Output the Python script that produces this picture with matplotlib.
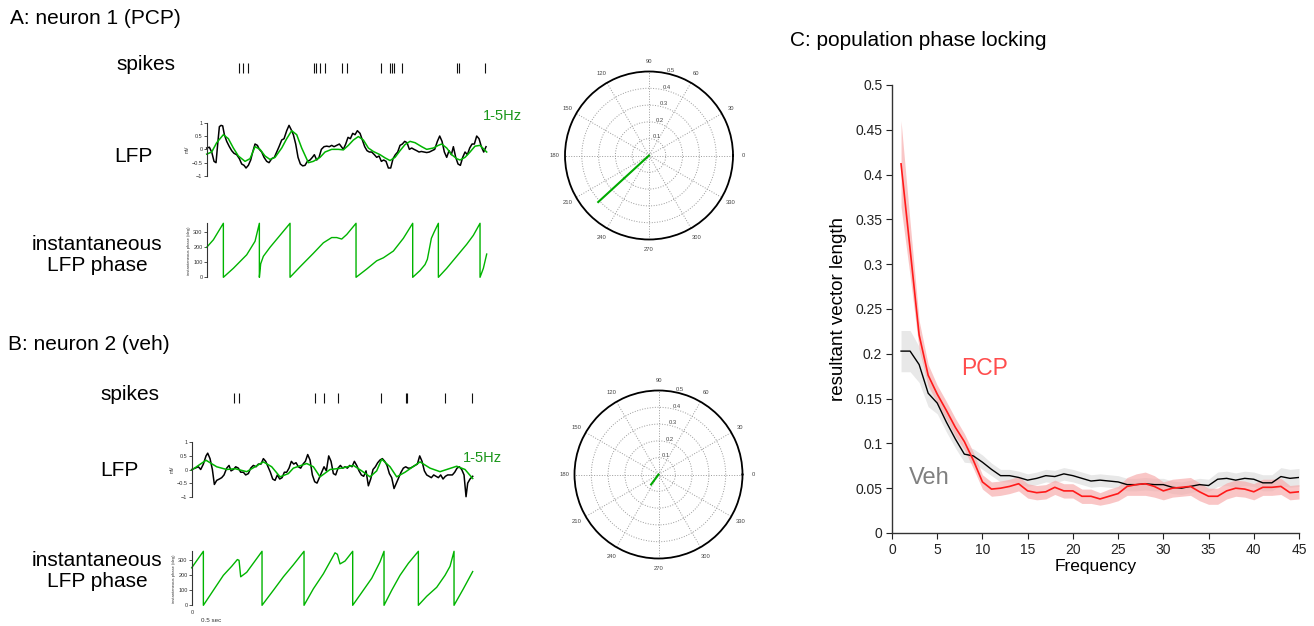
import matplotlib.pyplot as plt
import numpy as np
from matplotlib.ticker import FuncFormatter

plt.rcParams['font.family'] = ['Liberation Sans', 'DejaVu Sans']

W, H = 1314, 626
FS = 300  # samples per second of the example traces

# ---------------- neuron 1 (PCP) ----------------
spk_a = [98, 110, 125, 322, 328, 341, 355, 406, 420, 524, 550, 555, 561, 586, 750, 758, 834]

lfp_a_idx = [0, 8, 15, 22, 28, 33, 38, 43, 48, 53, 60, 68, 75, 82, 90, 98, 105, 112, 118, 125,
             132, 138, 145, 152, 158, 165, 172, 180, 187, 195, 203, 210, 217, 225, 232, 240, 247, 253, 260, 267,
             274, 281, 288, 295, 302, 310, 317, 323, 330, 337, 344, 352, 360, 368, 375, 382, 390, 398, 404, 410,
             417, 424, 431, 438, 445, 452, 460, 467, 474, 481, 488, 495, 503, 510, 517, 524, 531, 538, 545, 552,
             559, 566, 573, 580, 587, 594, 601, 608, 615, 622, 630, 637, 644, 652, 660, 668, 676, 684, 692, 699,
             706, 713, 720, 727, 734, 740, 747, 754, 761, 768, 775, 782, 789, 796, 803, 810, 817, 824, 831, 838]
lfp_a = [0.05, 0.08, -0.1, -0.45, -0.5, 0.2, 0.85, 0.9, 0.88, 0.55, 0.3, 0.1, -0.05, -0.15, -0.2, -0.35, -0.55, -0.6, -0.7, -0.6,
         -0.4, -0.1, 0.2, 0.15, 0.0, -0.1, -0.3, -0.45, -0.5, -0.35, -0.3, -0.1, 0.1, 0.35, 0.4, 0.7, 0.9, 0.75, 0.55, 0.2,
         -0.3, -0.55, -0.62, -0.6, -0.45, -0.4, -0.3, -0.2, -0.4, -0.3, 0.0, 0.1, 0.12, 0.1, 0.15, 0.1, 0.15, 0.2, 0.1, 0.0,
         0.2, 0.45, 0.4, 0.6, 0.55, 0.7, 0.6, 0.35, 0.1, -0.05, -0.1, -0.1, -0.2, -0.3, -0.25, -0.45, -0.4, -0.45, -0.7, -0.7,
         -0.35, -0.2, -0.1, 0.15, 0.2, 0.3, 0.25, 0.0, 0.05, 0.0, -0.05, -0.1, -0.08, -0.1, -0.12, -0.1, -0.05, 0.0, 0.3, 0.5,
         0.3, -0.1, -0.3, -0.05, -0.2, 0.1, -0.3, -0.55, -0.6, -0.3, -0.1, -0.2, 0.05, 0.2, 0.2, 0.5, 0.4, 0.1, -0.1, 0.1]

filt_a_idx = [0, 15, 30, 50, 65, 80, 95, 115, 130, 145, 160, 175, 190, 205, 225, 240, 255, 270, 285, 305,
              320, 340, 355, 375, 395, 410, 425, 440, 455, 470, 485, 500, 520, 535, 550, 565, 580, 595, 610, 625,
              645, 660, 680, 695, 705, 720, 735, 750, 760, 775, 790, 805, 820, 840]
filt_a = [-0.18, -0.1, 0.25, 0.55, 0.4, 0.05, -0.25, -0.45, -0.35, 0.1, 0.0, -0.25, -0.38, -0.3, 0.05, 0.4, 0.7, 0.55, 0.05, -0.5,
          -0.45, -0.3, -0.1, 0.0, 0.0, -0.02, 0.15, 0.35, 0.48, 0.35, 0.05, -0.08, -0.2, -0.32, -0.42, -0.3, -0.05, 0.18, 0.3, 0.25,
          0.1, 0.0, 0.05, 0.15, 0.2, 0.05, -0.2, -0.35, -0.4, -0.3, -0.1, 0.12, 0.15, -0.1]

phase_a_idx = [0, 20, 50, 50, 80, 120, 145, 158, 158, 162, 170, 190, 220, 250, 250, 280, 320, 350, 375, 390,
               405, 420, 448, 448, 480, 510, 530, 560, 590, 618, 618, 640, 655, 662, 668, 674, 682, 695, 695, 720,
               750, 780, 800, 820, 820, 830, 840]
phase_a = [200, 250, 360, 0, 60, 150, 240, 360, 0, 90, 140, 200, 280, 360, 0, 70, 160, 230, 265, 265,
           255, 285, 360, 0, 55, 110, 130, 175, 260, 360, 0, 45, 85, 120, 190, 260, 300, 360, 0, 60,
           140, 220, 280, 360, 0, 60, 155]

pcp_angle, pcp_len = 222.5, 0.41

# ---------------- neuron 2 (veh) ----------------
spk_b = [128, 143, 370, 397, 440, 567, 642, 645, 761, 841]

lfp_b_idx = [0, 10, 20, 27, 35, 43, 48, 55, 62, 68, 75, 83, 90, 97, 105, 112, 118, 125, 132, 140,
             147, 155, 162, 170, 177, 185, 193, 200, 208, 215, 222, 229, 236, 243, 250, 257, 264, 271, 278, 285,
             292, 299, 306, 313, 320, 327, 334, 341, 348, 355, 362, 369, 376, 383, 390, 397, 404, 411, 418, 425,
             432, 439, 446, 453, 460, 467, 474, 481, 488, 495, 502, 509, 516, 523, 530, 537, 544, 551, 558, 565,
             572, 579, 586, 593, 600, 607, 614, 621, 628, 635, 642, 649, 656, 663, 670, 677, 684, 691, 698, 705,
             712, 719, 726, 733, 740, 747, 754, 761, 768, 775, 782, 789, 796, 803, 810, 817, 823, 828, 835, 843]
lfp_b = [0.0, 0.05, 0.1, 0.0, 0.2, 0.5, 0.6, 0.4, 0.0, -0.55, -0.4, -0.35, -0.3, -0.2, 0.05, 0.15, -0.05, 0.0, 0.1, 0.05,
         -0.1, -0.1, -0.2, -0.15, 0.05, 0.15, 0.1, 0.2, 0.2, 0.4, 0.3, 0.1, -0.1, -0.35, -0.4, -0.2, -0.35, -0.3, -0.1, -0.1,
         0.05, 0.3, 0.2, 0.25, 0.1, 0.05, 0.2, 0.3, 0.55, 0.35, -0.2, -0.45, -0.5, -0.3, -0.1, 0.1, -0.05, 0.5, 0.3, -0.15,
         -0.2, 0.05, 0.15, 0.05, 0.1, 0.05, 0.15, 0.1, 0.3, 0.15, -0.05, -0.2, -0.25, -0.05, -0.6, -0.35, 0.0, 0.1, 0.25, 0.35,
         0.4, 0.3, 0.15, -0.15, -0.3, -0.7, -0.5, -0.3, -0.1, 0.05, 0.1, 0.05, 0.05, 0.1, 0.15, 0.2, 0.5, 0.3, -0.05, -0.2,
         -0.25, -0.3, -0.2, -0.25, -0.3, -0.2, -0.35, -0.25, -0.2, -0.2, -0.2, -0.1, 0.05, 0.1, 0.0, -0.2, -1.0, -0.5, -0.35, -0.25]

filt_b_idx = [0, 43, 75, 105, 130, 165, 190, 215, 240, 265, 290, 305, 345, 365, 385, 415, 450, 485, 510, 535,
              555, 570, 595, 615, 640, 685, 715, 745, 795, 820, 843]
filt_b = [-0.02, 0.34, 0.1, 0.0, 0.03, -0.08, 0.1, 0.28, 0.1, -0.27, -0.15, 0.05, 0.22, 0.1, -0.27, 0.0, 0.05, 0.15, -0.05, -0.27,
          -0.05, 0.38, 0.1, -0.27, -0.1, 0.28, 0.05, -0.08, 0.12, 0.0, -0.33]

phase_b_idx = [0, 35, 35, 65, 95, 120, 137, 142, 147, 165, 211, 211, 245, 275, 305, 337, 337, 365, 395, 420,
               430, 437, 445, 460, 483, 483, 510, 540, 565, 577, 577, 600, 625, 650, 680, 680, 705, 735, 760, 775,
               787, 787, 815, 843]
phase_b = [250, 360, 0, 100, 200, 260, 305, 300, 190, 220, 360, 0, 100, 190, 270, 360, 0, 110, 210, 310,
           350, 340, 276, 295, 360, 0, 85, 180, 290, 360, 0, 100, 200, 280, 360, 0, 60, 120, 200, 260,
           360, 0, 110, 225]

veh_angle, veh_len = 233.5, 0.074

# ---------------- population ----------------
freq = np.arange(1, 46)
pcp = [0.412, 0.317, 0.221, 0.176, 0.155, 0.137, 0.118, 0.102, 0.081, 0.057,
       0.049, 0.050, 0.052, 0.055, 0.047, 0.045, 0.046, 0.051, 0.047, 0.047,
       0.041, 0.041, 0.038, 0.041, 0.044, 0.052, 0.054, 0.055, 0.052, 0.047,
       0.050, 0.051, 0.052, 0.046, 0.041, 0.041, 0.047, 0.050, 0.049, 0.046,
       0.051, 0.051, 0.052, 0.045, 0.046]
pcp_sem = [0.048, 0.03, 0.016, 0.012, 0.01, 0.01, 0.01, 0.009, 0.009, 0.008,
           0.008, 0.008, 0.008, 0.008, 0.008, 0.008, 0.008, 0.008, 0.008, 0.008,
           0.008, 0.008, 0.007, 0.008, 0.008, 0.01, 0.012, 0.013, 0.012, 0.01,
           0.01, 0.01, 0.01, 0.01, 0.009, 0.009, 0.009, 0.009, 0.009, 0.009,
           0.009, 0.009, 0.009, 0.008, 0.008]
veh = [0.203, 0.203, 0.188, 0.156, 0.145, 0.124, 0.105, 0.088, 0.086, 0.079,
       0.071, 0.064, 0.064, 0.062, 0.059, 0.061, 0.064, 0.063, 0.066, 0.064,
       0.061, 0.058, 0.059, 0.058, 0.057, 0.054, 0.054, 0.055, 0.054, 0.054,
       0.051, 0.050, 0.052, 0.054, 0.053, 0.060, 0.061, 0.059, 0.061, 0.060,
       0.056, 0.056, 0.063, 0.061, 0.062]
veh_sem = [0.023, 0.023, 0.02, 0.015, 0.012, 0.011, 0.01, 0.009, 0.008, 0.008] + [0.007] * 25 + \
          [0.008] * 5 + [0.009] * 2 + [0.01] * 3

LINE_GREEN = '#00b400'
TEXT_GREEN = '#1a961a'
AXC = '#333333'


def rect(x0, y0, x1, y1):
    return [x0 / W, 1 - y1 / H, (x1 - x0) / W, (y1 - y0) / H]


def ftext(x, y, s, **kw):
    fig.text(x / W, 1 - y / H, s, **kw)


def small_axis(ax, ylim, yticks, ylabel):
    for s in ['top', 'right', 'bottom']:
        ax.spines[s].set_visible(False)
    ax.spines['left'].set_color(AXC)
    ax.spines['left'].set_linewidth(0.8)
    ax.set_xlim(0, 2.8)
    ax.set_ylim(*ylim)
    ax.set_xticks([])
    ax.set_yticks(yticks)
    ax.set_yticklabels([f'{v:g}'.replace('-', '\u2212') for v in yticks])
    ax.tick_params(axis='y', length=2, width=0.6, pad=1, labelsize=4, colors=AXC)
    ax.set_ylabel(ylabel, fontsize=3.5, labelpad=1.5, color=AXC)
    ax.patch.set_alpha(0)


def polar_panel(r, angle, length):
    ax = fig.add_axes(r, projection='polar')
    ax.plot([0, np.deg2rad(angle)], [0, length], color='#00aa00', lw=1.5)
    ax.set_rlim(0, 0.5)
    ax.set_rticks([0.1, 0.2, 0.3, 0.4, 0.5])
    ax.set_yticklabels(['0.1', '0.2', '0.3', '0.4', '0.5'])
    ax.set_rlabel_position(78)
    ax.set_thetagrids(range(0, 360, 30), labels=[str(a) for a in range(0, 360, 30)])
    ax.tick_params(axis='both', labelsize=4.2, colors='#444444')
    ax.tick_params(axis='x', pad=-3)
    ax.grid(True, color='#9a9a9a', linestyle=':', linewidth=0.7)
    ax.spines['polar'].set_color('black')
    ax.spines['polar'].set_linewidth(1.3)
    return ax


def neuron_panel(x0, ys, spk, lfp_idx, lfp, filt_idx, filt, ph_idx, ph):
    # ys: spike top/bottom, lfp top/bottom, phase top/bottom in px
    x1 = x0 + 280
    ax = fig.add_axes(rect(x0, ys[0], x1, ys[1]))
    ax.vlines(np.array(spk) / FS, 0, 1, color='#111111', lw=0.8, clip_on=False)
    ax.set_xlim(0, 2.8)
    ax.set_ylim(0, 1)
    ax.axis('off')

    ax = fig.add_axes(rect(x0, ys[2], x1, ys[3]))
    ax.plot(np.array(lfp_idx) / FS, lfp, color='black', lw=1.1, clip_on=False)
    ax.plot(np.array(filt_idx) / FS, filt, color=LINE_GREEN, lw=1.1, clip_on=False)
    small_axis(ax, (-1, 1), [-1, -0.5, 0, 0.5, 1], 'mV')

    ax = fig.add_axes(rect(x0, ys[4], x1, ys[5]))
    ax.plot(np.array(ph_idx) / FS, ph, color=LINE_GREEN, lw=1.0, clip_on=False)
    small_axis(ax, (0, 360), [0, 100, 200, 300], 'instantaneous phase (deg)')
    ax.yaxis.label.set_fontsize(3)
    return ax


fig = plt.figure(figsize=(W / 100, H / 100), dpi=100)

# ---- A
neuron_panel(206.7, [62.7, 72.7, 122.7, 176, 223.3, 277.3],
             spk_a, lfp_a_idx, lfp_a, filt_a_idx, filt_a, phase_a_idx, phase_a)
polar_panel(rect(565, 71.5, 733, 239.5), pcp_angle, pcp_len)

ftext(10, 18, 'A: neuron 1 (PCP)', fontsize=15, va='center', ha='left')
ftext(146, 65, 'spikes', fontsize=15, va='center', ha='center')
ftext(133, 157, 'LFP', fontsize=15, va='center', ha='center')
ftext(97, 255, 'instantaneous\nLFP phase', fontsize=15, va='center', ha='center', linespacing=1.1)
ftext(483, 116, '1-5Hz', fontsize=10.5, va='center', ha='left', color=TEXT_GREEN)

# ---- B
neuron_panel(191.7, [393.3, 403.3, 442.3, 496.7, 551.3, 605.3],
             spk_b, lfp_b_idx, lfp_b, filt_b_idx, filt_b, phase_b_idx, phase_b)
polar_panel(rect(574.5, 390.5, 742.5, 558.5), veh_angle, veh_len)

ftext(8, 345, 'B: neuron 2 (veh)', fontsize=15, va='center', ha='left')
ftext(130, 394, 'spikes', fontsize=15, va='center', ha='center')
ftext(119, 470, 'LFP', fontsize=15, va='center', ha='center')
ftext(97, 571, 'instantaneous\nLFP phase', fontsize=15, va='center', ha='center', linespacing=1.1)
ftext(463, 458, '1-5Hz', fontsize=10.5, va='center', ha='left', color=TEXT_GREEN)
ftext(192, 613, '0', fontsize=4, va='center', ha='center', color=AXC)
ftext(201, 621, '0.5 sec', fontsize=4.5, va='center', ha='left', color=AXC)

# ---- C
ax = fig.add_axes(rect(892, 85, 1299, 533))
pcp_a, pcp_s = np.array(pcp), np.array(pcp_sem)
veh_a, veh_s = np.array(veh), np.array(veh_sem)
ax.fill_between(freq, veh_a - veh_s, veh_a + veh_s, color='#e4e4e4', lw=0, alpha=0.85)
ax.fill_between(freq, pcp_a - pcp_s, pcp_a + pcp_s, color='#f7a8a8', lw=0, alpha=0.65)
ax.plot(freq, veh_a, color='black', lw=1.0)
ax.plot(freq, pcp_a, color='#ff1a1a', lw=1.2)
ax.set_xlim(0, 45)
ax.set_ylim(0, 0.5)
ax.set_xticks(range(0, 46, 5))
ax.set_yticks(np.arange(0, 0.501, 0.05))
ax.yaxis.set_major_formatter(FuncFormatter(lambda v, _: f'{v:.2f}'.rstrip('0').rstrip('.') if v else '0'))
for s in ['top', 'right']:
    ax.spines[s].set_visible(False)
for s in ['left', 'bottom']:
    ax.spines[s].set_color(AXC)
    ax.spines[s].set_linewidth(1.0)
ax.tick_params(length=4, width=0.8, labelsize=10, colors='#222222', pad=3)
ax.set_xlabel('Frequency', fontsize=12.5, labelpad=2)
ax.set_ylabel('resultant vector length', fontsize=13.5, labelpad=6)
ax.text(10.2, 0.184, 'PCP', color='#ff4d4d', fontsize=16.5, ha='center', va='center')
ax.text(4.1, 0.061, 'Veh', color='#808080', fontsize=17, ha='center', va='center')

ftext(790, 40, 'C: population phase locking', fontsize=15, va='center', ha='left')

fig.savefig('out.png', dpi=100)
